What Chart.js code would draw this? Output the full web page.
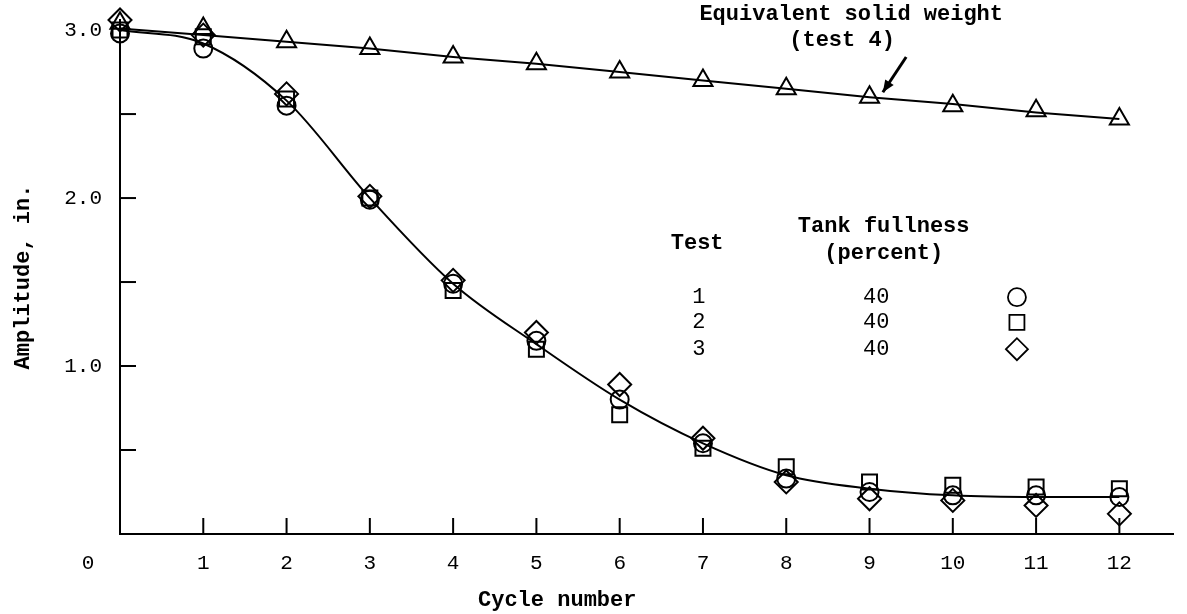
<!DOCTYPE html>
<html lang="en">

<head>
    <meta charset="UTF-8">
    <title>amplitude</title>
    <script src="https://cdn.jsdelivr.net/npm/chart.js"></script>
    <style>
        body { margin: 0; background: #fff; }
    </style>
</head>

<body>
    <canvas id="canvas" width="1187" height="614"></canvas>
    <script>
        // values
        const cycles = [0, 1, 2, 3, 4, 5, 6, 7, 8, 9, 10, 11, 12];
        const test1 = [2.98, 2.89, 2.55, 1.99, 1.49, 1.15, 0.80, 0.54, 0.33, 0.25, 0.23, 0.23, 0.22]; // circles
        const test2 = [3.00, 2.96, 2.59, 2.00, 1.45, 1.10, 0.71, 0.51, 0.40, 0.31, 0.29, 0.28, 0.27]; // squares
        const test3 = [3.06, 2.97, 2.62, 2.01, 1.51, 1.20, 0.89, 0.57, 0.31, 0.21, 0.20, 0.17, 0.12]; // diamonds
        const test4 = [3.04, 3.01, 2.93, 2.89, 2.84, 2.80, 2.75, 2.70, 2.65, 2.60, 2.55, 2.52, 2.47]; // triangles
        // faired curves
        const fitLiquid = [3.00, 2.92, 2.58, 2.00, 1.49, 1.13, 0.80, 0.54, 0.35, 0.27, 0.23, 0.22, 0.22];
        const fitSolid = [3.01, 2.97, 2.93, 2.89, 2.84, 2.80, 2.75, 2.70, 2.65, 2.60, 2.56, 2.51, 2.47];

        const xTicks = [1, 2, 3, 4, 5, 6, 7, 8, 9, 10, 11, 12];
        const yLabels = [1, 2, 3];
        const yTickMarks = [0.5, 1, 1.5, 2, 2.5];

        const legendTests = ['1', '2', '3'];
        const legendFullness = ['40', '40', '40'];
        const legendMarks = ['circle', 'rect', 'rectRot'];

        const FONT = "'Liberation Mono', 'DejaVu Sans Mono', monospace";

        function pts(ys) {
            return cycles.map((c, i) => ({ x: c, y: ys[i] }));
        }

        function markerSet(ys, style, r) {
            return {
                data: pts(ys),
                showLine: false,
                pointStyle: style,
                pointRadius: r,
                pointBorderWidth: 2,
                pointBorderColor: '#000',
                pointBackgroundColor: 'rgba(0,0,0,0)',
                clip: false
            };
        }

        function lineSet(ys, curved) {
            return {
                data: pts(ys),
                showLine: true,
                pointRadius: 0,
                borderColor: '#000',
                borderWidth: 2,
                cubicInterpolationMode: curved ? 'monotone' : 'default',
                tension: 0,
                clip: false
            };
        }

        // tick marks, extra labels, legend table and the arrow note
        const extras = {
            id: 'extras',
            afterDraw(chart) {
                const c = chart.ctx;
                const xs = chart.scales.x, ys = chart.scales.y;
                const P = (x, y) => [xs.getPixelForValue(x), ys.getPixelForValue(y)];
                const bottom = ys.getPixelForValue(0);
                const left = xs.getPixelForValue(0);

                c.save();
                c.strokeStyle = '#000';
                c.fillStyle = '#000';
                c.lineWidth = 2;
                // inward ticks
                xTicks.forEach(v => {
                    const px = xs.getPixelForValue(v);
                    c.beginPath(); c.moveTo(px, bottom); c.lineTo(px, bottom - 16); c.stroke();
                });
                yTickMarks.forEach(v => {
                    const py = ys.getPixelForValue(v);
                    c.beginPath(); c.moveTo(left, py); c.lineTo(left + 16, py); c.stroke();
                });

                c.textAlign = 'center';
                c.textBaseline = 'middle';
                c.font = '21px ' + FONT;
                c.fillText('0', left - 32, bottom + 29);

                c.font = 'bold 22px ' + FONT;
                let p = P(5.25, 0);
                c.fillText('Cycle number', p[0], bottom + 66);

                // legend table
                p = P(6.93, 1.73); c.fillText('Test', p[0], p[1]);
                p = P(9.17, 1.83); c.fillText('Tank fullness', p[0], p[1]);
                p = P(9.17, 1.67); c.fillText('(percent)', p[0], p[1]);
                const rowY = [1.41, 1.26, 1.10];
                const radii = { circle: 9, rect: 10.6, rectRot: 11 };
                c.font = '22px ' + FONT;
                legendTests.forEach((t, i) => {
                    c.fillStyle = '#000';
                    p = P(6.95, rowY[i]); c.fillText(t, p[0], p[1]);
                    p = P(9.08, rowY[i]); c.fillText(legendFullness[i], p[0], p[1]);
                    p = P(10.77, rowY[i]);
                    c.fillStyle = 'rgba(0,0,0,0)';
                    c.lineWidth = 1.8;
                    Chart.helpers.drawPoint(c, { pointStyle: legendMarks[i], radius: radii[legendMarks[i]], borderWidth: 1.8 }, p[0], p[1]);
                });

                // note for test 4
                c.fillStyle = '#000';
                c.font = 'bold 22px ' + FONT;
                p = P(8.78, 3.095); c.fillText('Equivalent solid weight', p[0], p[1]);
                p = P(8.67, 2.94); c.fillText('(test 4)', p[0], p[1]);
                const a = P(9.44, 2.84), b = P(9.16, 2.63);
                c.lineWidth = 3;
                c.beginPath(); c.moveTo(a[0], a[1]); c.lineTo(b[0], b[1]); c.stroke();
                const ang = Math.atan2(b[1] - a[1], b[0] - a[0]);
                c.beginPath();
                c.moveTo(b[0], b[1]);
                c.lineTo(b[0] - 13 * Math.cos(ang - 0.4), b[1] - 13 * Math.sin(ang - 0.4));
                c.lineTo(b[0] - 13 * Math.cos(ang + 0.4), b[1] - 13 * Math.sin(ang + 0.4));
                c.closePath(); c.fill();
                c.restore();
            }
        };

        const ctx = document.getElementById('canvas').getContext('2d');
        new Chart(ctx, {
            type: 'scatter',
            data: {
                datasets: [
                    lineSet(fitLiquid, true),
                    lineSet(fitSolid, false),
                    markerSet(test1, 'circle', 9),
                    markerSet(test2, 'rect', 10.6),
                    markerSet(test3, 'rectRot', 11.5),
                    markerSet(test4, 'triangle', 11)
                ]
            },
            options: {
                responsive: false,
                animation: false,
                layout: { padding: { left: 0, top: 20, right: 12, bottom: 0 } },
                plugins: { legend: { display: false }, tooltip: { enabled: false } },
                scales: {
                    x: {
                        type: 'linear',
                        min: 0,
                        max: 12.65,
                        afterFit: s => { s.height = 80; s.paddingLeft = 0; s.paddingRight = 0; },
                        afterBuildTicks: s => { s.ticks = xTicks.map(v => ({ value: v })); },
                        border: { display: true, color: '#000', width: 2 },
                        grid: { display: false, drawTicks: false },
                        ticks: {
                            color: '#000',
                            padding: 17,
                            maxRotation: 0,
                            font: { family: FONT, size: 21 },
                            callback: v => String(v)
                        }
                    },
                    y: {
                        min: 0,
                        max: 3.06,
                        afterFit: s => { s.width = 120; s.paddingTop = 0; s.paddingBottom = 0; },
                        afterBuildTicks: s => { s.ticks = yLabels.map(v => ({ value: v })); },
                        border: { display: true, color: '#000', width: 2 },
                        grid: { display: false, drawTicks: false },
                        ticks: {
                            color: '#000',
                            padding: 18,
                            font: { family: FONT, size: 21 },
                            callback: v => v.toFixed(1)
                        },
                        title: {
                            display: true,
                            text: 'Amplitude, in.',
                            color: '#000',
                            padding: { top: 10, bottom: 0 },
                            font: { family: FONT, size: 22, weight: 'bold' }
                        }
                    }
                }
            },
            plugins: [extras]
        });
    </script>
</body>

</html>
